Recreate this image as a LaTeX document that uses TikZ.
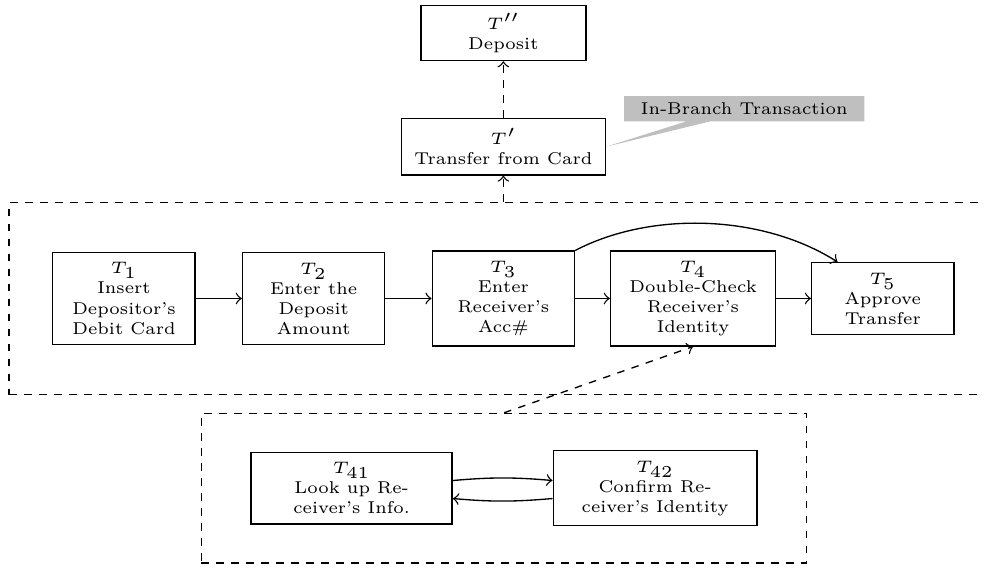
\documentclass[tikz,border=0pt]{standalone}
\usepackage{fontspec}
\usepackage{tikz}
\usetikzlibrary{positioning, fit, shapes.callouts}
\newfontfamily\taskfont{lmroman6-regular.otf}[Ligatures=TeX]
\tikzstyle{task} = [rectangle, draw=black, align=center, inner sep=3pt, font=\taskfont\fontsize{5.14}{6}\selectfont, minimum width=1.5cm]
\tikzstyle{arrow} = [->]
\tikzstyle{darrow} = [->, dash pattern=on 2.25pt off 2.25pt]
\tikzstyle{group} = [rectangle, draw=black, dash pattern=on 2.25pt off 2.25pt]
\tikzstyle{note} = [rectangle callout, fill=gray!50, font=\taskfont\fontsize{5.14}{6}\selectfont, inner xsep=5pt, inner ysep=2pt]

\begin{document}
\begin{tikzpicture}[node distance=2cm, on grid]
  \useasboundingbox (-1.307,-2.82) rectangle (9.067,3.147);
  \node[task] (t1) {$T_1$\\Insert\\Depositor's\\Debit Card};
  \node[task, right=of t1] (t2) {$T_2$\\Enter the\\Deposit\\Amount};
  \node[task, right=of t2] (t3) {$T_3$\\Enter\\Receiver's\\Acc\#};
  \node[task, right=of t3, minimum width=1.74cm] (t4) {$T_4$\\Double-Check\\Receiver's\\Identity};
  \node[task, right=of t4] (t5) {$T_5$\\Approve\\Transfer};
  \node[task, above=1.6cm of t3, minimum width=2.15cm] (tp) {$T'$\\Transfer from Card};
  \node[task, above=1.2cm of tp, minimum width=1.74cm, inner ysep=2.4pt] (tpp) {$T''$\\Deposit};
  \node[note, above right=0.4cm and 2.54cm of tp, callout absolute pointer=(tp.east)] (branch) {In-Branch Transaction};
  \node[task, below left=2cm and 1.6cm of t3, minimum width=2.12cm] (t41) {$T_{41}$\\Look up Re-\\ceiver's Info.};
  \node[task, below right=2cm and 1.6cm of t3, minimum width=2.15cm] (t42) {$T_{42}$\\Confirm Re-\\ceiver's Identity};

  \node[group, fit=(t1)(t3)(t5), inner xsep=12.9pt, inner ysep=14.4pt] (main) {};
  \node[group, fit=(t41)(t42), inner xsep=14.7pt, inner ysep=11pt] (sub) {};

  \draw[arrow] (t1) -- (t2);
  \draw[arrow] (t2) -- (t3);
  \draw[arrow] (t3) -- (t4);
  \draw[arrow] (t4) -- (t5);
  \draw[arrow] (t3.north east) to[bend left, looseness=0.85] (t5);
  \draw[darrow] (main.north) -- (tp.south);
  \draw[darrow] (tp) -- (tpp);
  \draw[darrow] (sub.north) -- (t4.south);
  \draw[arrow] ([yshift=2.3pt]t41.east) to[bend left=5] ([yshift=2.3pt]t42.west);
  \draw[arrow] ([yshift=-3.1pt]t42.west) to[bend left=5] ([yshift=-3.1pt]t41.east);
\end{tikzpicture}
\end{document}
